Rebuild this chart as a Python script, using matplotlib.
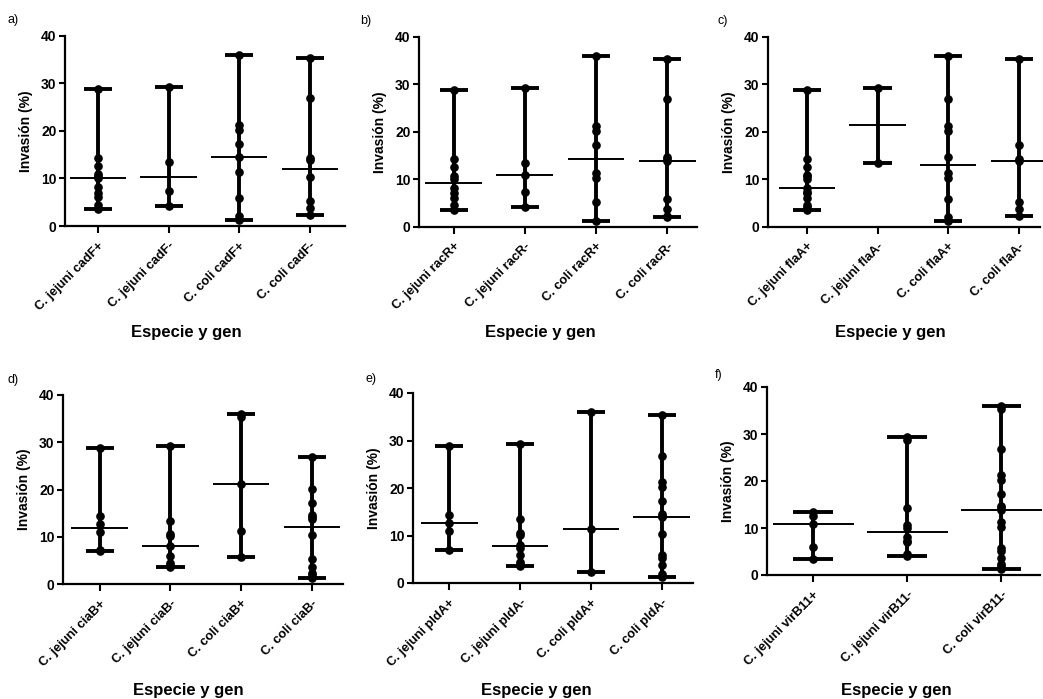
import numpy as np
import matplotlib
matplotlib.use("Agg")
import matplotlib.pyplot as plt

plt.rcParams['font.family'] = ['Liberation Sans', 'DejaVu Sans']

W, H = 1043, 699

# a) cadF
cadF_labels = ["C. jejuni cadF+", "C. jejuni cadF-", "C. coli cadF+", "C. coli cadF-"]
jej_cadF_pos = [28.8, 14.3, 12.6, 10.9, 10.6, 10.1, 8.1, 7.0, 6.0, 4.5, 3.5]
jej_cadF_neg = [29.3, 13.4, 7.3, 4.1]
coli_cadF_pos = [36.0, 21.2, 20.2, 17.2, 14.6, 11.3, 5.8, 2.0, 1.2]
coli_cadF_neg = [35.4, 26.8, 14.2, 13.8, 10.3, 5.2, 3.7, 2.3]

# b) racR
racR_labels = ["C. jejuni racR+", "C. jejuni racR-", "C. coli racR+", "C. coli racR-"]
jej_racR_pos = [28.8, 14.3, 12.6, 10.6, 10.1, 8.1, 7.0, 6.0, 4.5, 3.5]
jej_racR_neg = [29.3, 13.4, 10.9, 7.3, 4.1]
coli_racR_pos = [36.0, 21.2, 20.2, 17.2, 11.3, 10.3, 5.2, 1.2]
coli_racR_neg = [35.4, 26.8, 14.6, 14.2, 13.8, 5.8, 3.7, 2.3, 2.0]

# c) flaA
flaA_labels = ["C. jejuni flaA+", "C. jejuni flaA-", "C. coli flaA+", "C. coli flaA-"]
jej_flaA_pos = [28.8, 14.3, 12.6, 10.9, 10.6, 10.1, 8.1, 7.3, 7.0, 6.0, 4.5, 4.1, 3.5]
jej_flaA_neg = [29.3, 13.4]
coli_flaA_pos = [36.0, 26.8, 21.2, 20.2, 14.6, 11.3, 10.3, 5.8, 2.0, 1.2]
coli_flaA_neg = [35.4, 17.2, 14.2, 13.8, 5.2, 3.7, 2.3]

# d) ciaB
ciaB_labels = ["C. jejuni ciaB+", "C. jejuni ciaB-", "C. coli ciaB+", "C. coli ciaB-"]
jej_ciaB_pos = [28.8, 14.3, 12.6, 10.9, 7.3, 7.0]
jej_ciaB_neg = [29.3, 13.4, 10.6, 10.1, 8.1, 6.0, 4.5, 4.1, 3.5]
coli_ciaB_pos = [36.0, 35.4, 21.2, 11.3, 5.8]
coli_ciaB_neg = [26.8, 20.2, 17.2, 14.6, 14.2, 13.8, 10.3, 5.2, 3.7, 2.3, 2.0, 1.2]

# e) pldA
pldA_labels = ["C. jejuni pldA+", "C. jejuni pldA-", "C. coli pldA+", "C. coli pldA-"]
jej_pldA_pos = [28.8, 14.3, 12.6, 10.9, 7.0]
jej_pldA_neg = [29.3, 13.4, 10.6, 10.1, 8.1, 7.3, 6.0, 4.5, 4.1, 3.5]
coli_pldA_pos = [36.0, 11.3, 2.3]
coli_pldA_neg = [35.4, 26.8, 21.2, 20.2, 17.2, 14.6, 14.2, 13.8, 10.3, 5.8, 5.2, 3.7, 2.0, 1.2]

# f) virB11
virB11_labels = ["C. jejuni virB11+", "C. jejuni virB11-", "C. coli virB11-"]
jej_virB11_pos = [13.4, 12.6, 10.9, 6.0, 3.5]
jej_virB11_neg = [29.3, 28.8, 14.3, 10.6, 10.1, 8.1, 7.3, 7.0, 4.5, 4.1]
coli_virB11_neg = [36.0, 35.4, 26.8, 21.2, 20.2, 17.2, 14.6, 14.2, 13.8, 11.3,
                   10.3, 5.8, 5.2, 3.7, 2.3, 2.0, 1.2]


def px_rect(left, right, top, bottom):
    return [left / W, 1 - bottom / H, (right - left) / W, (bottom - top) / H]


def draw_panel(fig, rect, xlim, labels, groups, letter, letter_xy, xlab_xy,
               med_w=0.4, cap_w=0.2):
    ax = fig.add_axes(px_rect(*rect))
    for i, vals in enumerate(groups):
        vals = np.asarray(vals)
        lo, hi, med = vals.min(), vals.max(), np.median(vals)
        ax.vlines(i, lo, hi, color='k', lw=2.8, clip_on=False, zorder=2)
        ax.hlines([lo, hi], i - cap_w, i + cap_w, color='k', lw=2.8,
                  clip_on=False, zorder=2)
        ax.hlines(med, i - med_w, i + med_w, color='k', lw=1.4,
                  clip_on=False, zorder=2)
        ax.plot(np.full(len(vals), i), vals, 'o', color='k', ms=5.2,
                clip_on=False, zorder=3)
    ax.set_xlim(*xlim)
    ax.set_ylim(0, 40)
    ax.set_yticks([0, 10, 20, 30, 40])
    ax.set_xticks(range(len(labels)))
    ax.set_xticklabels(labels, rotation=45, ha='right', va='top',
                       rotation_mode='anchor', fontsize=9.3, fontweight='bold')
    for lab in ax.get_yticklabels():
        lab.set_fontweight('bold')
        lab.set_fontsize(10)
    for s in ['top', 'right']:
        ax.spines[s].set_visible(False)
    for s in ['left', 'bottom']:
        ax.spines[s].set_linewidth(1.6)
    ax.tick_params(direction='out', length=4, width=1.5, pad=2)
    ax.tick_params(axis='x', length=5, pad=5)
    ax.set_ylabel("Invasión (%)", fontsize=10, fontweight='bold')
    axw = rect[1] - rect[0]
    ax.yaxis.set_label_coords(-32 / axw, 0.5)
    fig.text(letter_xy[0] / W, 1 - letter_xy[1] / H, letter, fontsize=9,
             ha='left', va='center')
    fig.text(xlab_xy[0] / W, 1 - xlab_xy[1] / H, "Especie y gen", fontsize=12,
             fontweight='bold', ha='center', va='center')
    return ax


fig = plt.figure(figsize=(W / 100, H / 100), dpi=100)

draw_panel(fig, (65, 345, 35.7, 226), (-0.47, 3.5), cadF_labels,
           [jej_cadF_pos, jej_cadF_neg, coli_cadF_pos, coli_cadF_neg],
           "a)", (8, 20), (186, 332))
draw_panel(fig, (419, 697, 36.7, 226.7), (-0.49, 3.42), racR_labels,
           [jej_racR_pos, jej_racR_neg, coli_racR_pos, coli_racR_neg],
           "b)", (360, 21), (540, 332))
draw_panel(fig, (768, 1040, 36.7, 226.7), (-0.55, 3.3), flaA_labels,
           [jej_flaA_pos, jej_flaA_neg, coli_flaA_pos, coli_flaA_neg],
           "c)", (718, 21), (890, 332))
draw_panel(fig, (63, 343, 395, 584), (-0.52, 3.44), ciaB_labels,
           [jej_ciaB_pos, jej_ciaB_neg, coli_ciaB_pos, coli_ciaB_neg],
           "d)", (8, 380), (188, 690))
draw_panel(fig, (413, 693, 393, 583), (-0.51, 3.44), pldA_labels,
           [jej_pldA_pos, jej_pldA_neg, coli_pldA_pos, coli_pldA_neg],
           "e)", (366, 379), (536, 690))
draw_panel(fig, (767, 1040, 387, 575), (-0.49, 2.41), virB11_labels,
           [jej_virB11_pos, jej_virB11_neg, coli_virB11_neg],
           "f)", (715, 375), (896, 690), med_w=0.43, cap_w=0.21)

fig.savefig("out.png", dpi=100)
